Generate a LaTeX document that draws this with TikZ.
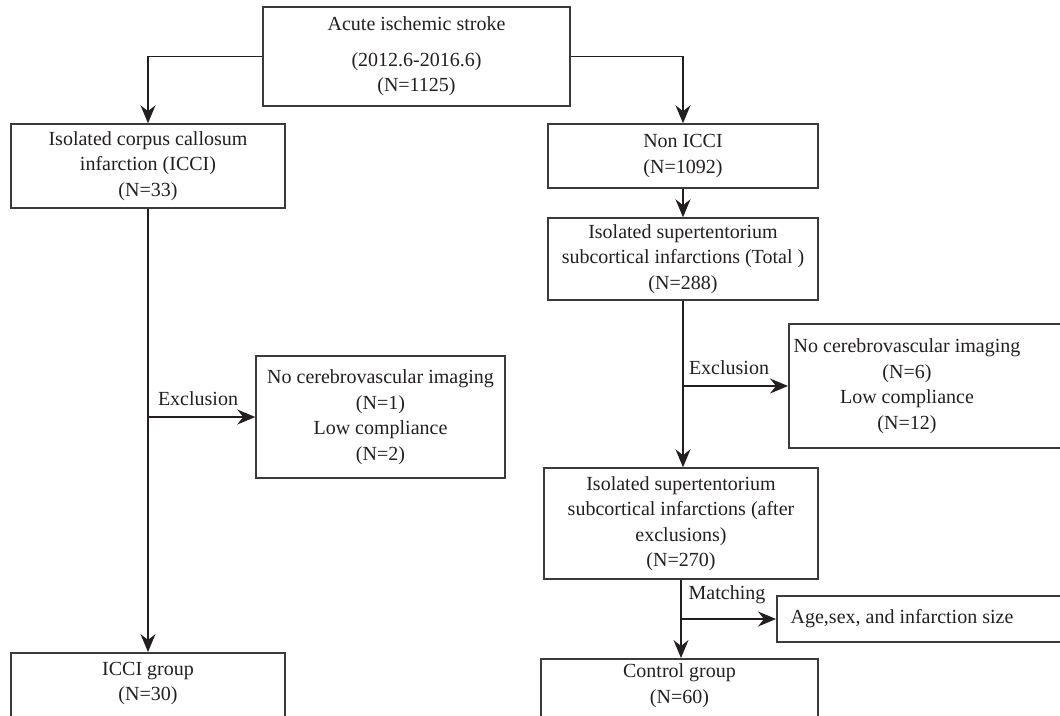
\documentclass[tikz,border=0pt]{standalone}
\usepackage{fontspec}
\setmainfont{Liberation Serif}
\usetikzlibrary{arrows.meta}
\definecolor{linec}{HTML}{3A3A3A}
\definecolor{inkc}{HTML}{231F20}
\newcommand\boxfont{\fontsize{20}{25.5}\selectfont}
\begin{document}
\begin{tikzpicture}[x=1pt,y=-1pt,
  box/.style={draw=linec, line width=1.5pt, inner sep=0pt, align=center, font=\boxfont, text=inkc},
  txt/.style={inner sep=0pt, align=center, font=\boxfont, text=inkc},
  arr/.style={draw=inkc, line width=1.3pt, -{Stealth[length=18pt,width=15pt,inset=6pt]}}]
\useasboundingbox (0,0) rectangle (1060,715);
\clip (0,0) rectangle (1060,715);
\fill[white] (0,0) rectangle (1060,715);

\node[box, minimum width=307, minimum height=99] (top) at (416.5,56.5) {Acute ischemic stroke\\[10pt](2012.6-2016.6)\\(N=1125)};
\node[box, minimum width=274, minimum height=84] (icc) at (148,166) {Isolated corpus callosum\\infarction (ICCI)\\(N=33)};
\node[box, minimum width=270, minimum height=64] (non) at (683,156) {Non ICCI\\(N=1092)};
\node[box, minimum width=270, minimum height=82] (tot) at (683,259) {Isolated supertentorium\\subcortical infarctions (Total )\\(N=288)};
\node[box, minimum width=249, minimum height=122] (exl) at (380.5,417) {No cerebrovascular imaging\\(N=1)\\Low compliance\\(N=2)};
\node[box, minimum width=300, minimum height=124, anchor=west] (exr) at (788,386) {};
\node[txt] (exrt) at (907,386) {No cerebrovascular imaging\\(N=6)\\Low compliance\\(N=12)};
\node[box, minimum width=274, minimum height=111] (aft) at (681,523.5) {Isolated supertentorium\\subcortical infarctions (after\\exclusions)\\(N=270)};
\node[box, minimum width=300, minimum height=46, anchor=west] (age) at (776,619) {};
\node[txt] (aget) at (902,619) {Age,sex, and infarction size};
\node[box, minimum width=274, minimum height=80, anchor=north] (iccg) at (148,652) {};
\node[txt] (iccgt) at (148,683.5) {ICCI group\\(N=30)};
\node[box, minimum width=277, minimum height=80, anchor=north] (ctl) at (679.5,658) {};
\node[txt] (ctlt) at (679.5,685.5) {Control group\\(N=60)};

\draw[arr] (top.west) -| (icc.north);
\draw[arr] (top.east) -| (non.north);
\draw[arr] (non.south) -- (tot.north);
\draw[arr] (tot.south) -- (tot.south |- aft.north);
\coordinate (e2) at (tot.south |- exr.west);
\draw[arr] (e2) -- (exr.west);
\draw[arr] (icc.south) -- (icc.south |- iccg.north);
\coordinate (e1) at (icc.south |- exl.west);
\draw[arr] (e1) -- (exl.west);
\draw[arr] (aft.south) -- (aft.south |- ctl.north);
\coordinate (m1) at (aft.south |- age.west);
\draw[arr] (m1) -- (age.west);

\node[txt] (lx1) at (198,399) {Exclusion};
\node[txt] (lx2) at (729,368) {Exclusion};
\node[txt] (lm) at (727,595) {Matching};
\end{tikzpicture}
\end{document}
